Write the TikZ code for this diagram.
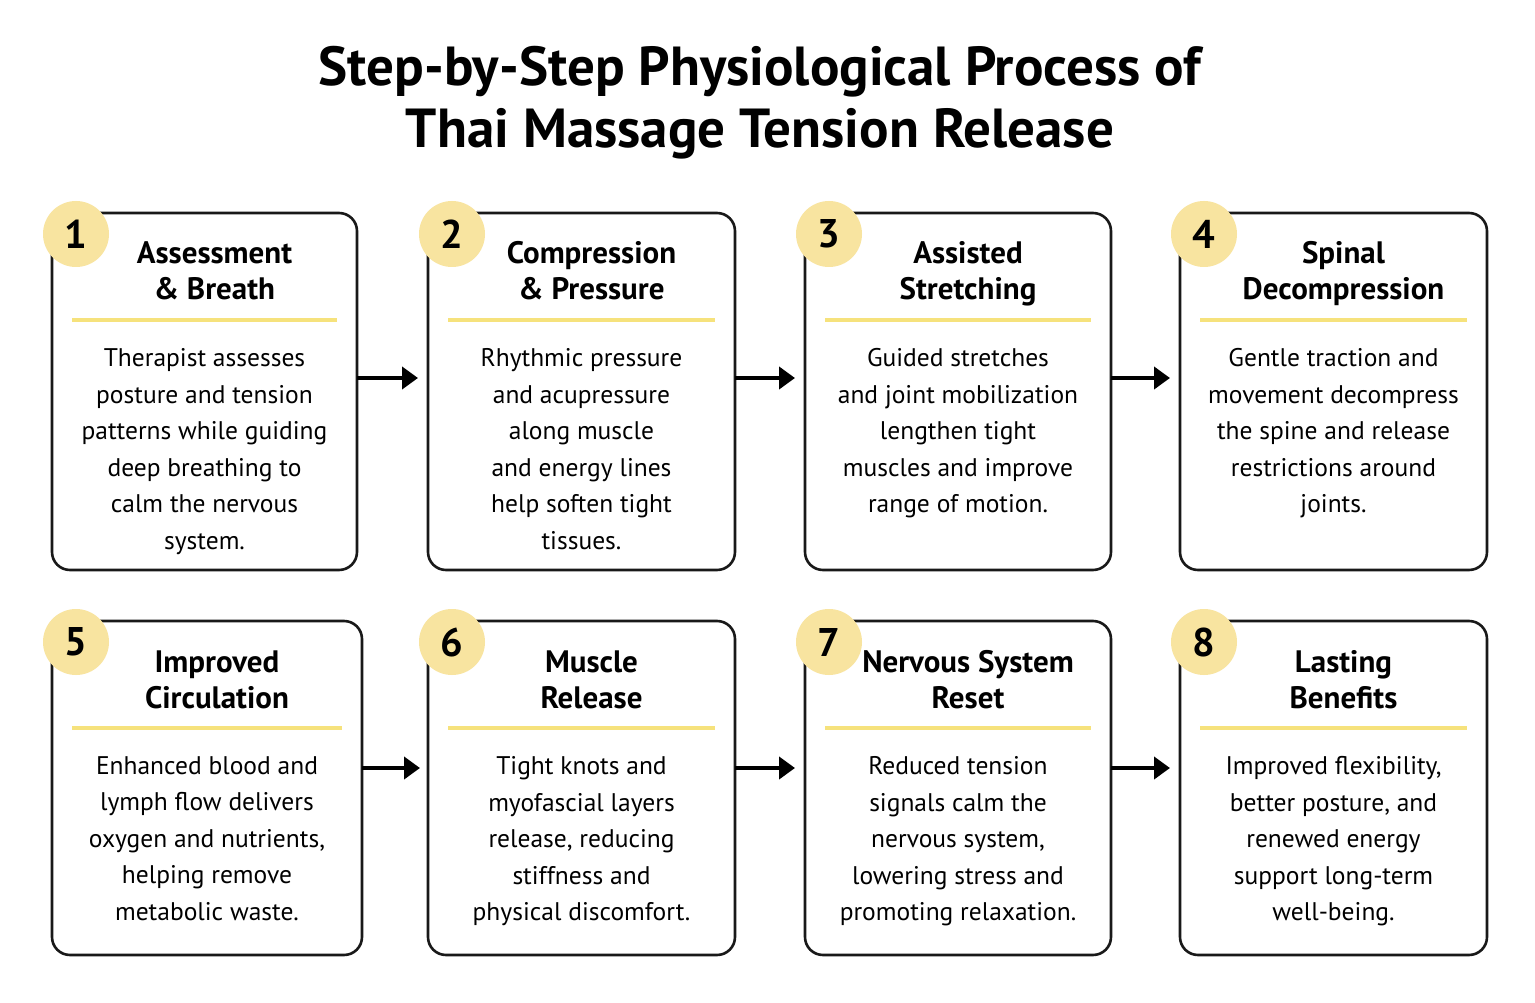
\documentclass[tikz,border=0pt]{standalone}
\usepackage{fontspec}
\setmainfont{PT Sans}
\usetikzlibrary{arrows.meta}
\definecolor{numyel}{HTML}{F8E4A0}
\definecolor{lineyel}{HTML}{F6E27C}
\tikzset{
  card/.style={draw=black!90,line width=2.6pt,rounded corners=18pt},
  numc/.style={circle,fill=numyel,minimum size=66pt,inner sep=0pt,font=\fontsize{40}{40}\selectfont\bfseries},
  head/.style={align=center,font=\fontsize{31}{36}\selectfont\bfseries,text depth=0pt},
  body/.style={align=center,font=\fontsize{25.5}{36.5}\selectfont},
  sep/.style={draw=lineyel,line width=3.5pt},
  flow/.style={line width=4pt,-{Triangle[length=16pt,width=22pt]}}
}
\newcommand{\cardbox}[9]{% name x1 y1 x2 y2 num head headY body
  \draw[card] (#2,#3) rectangle (#4,#5);
  \node[numc] (#1n) at (#2+24,#3+21) {#6};
  \node[head,anchor=base] (#1h) at ({(#2+#4)/2+10},#8) {#7};
  \draw[sep] (#2+20,#3+107) -- (#4-20,#3+107);
  \node[body,anchor=north] (#1b) at ({(#2+#4)/2},#3+132) {#9};
}
\begin{document}
\begin{tikzpicture}[x=1pt,y=-1pt]
\useasboundingbox[fill=white] (0,0) rectangle (1535,1003);
\node[align=center,font=\fontsize{55}{62}\selectfont\bfseries] (title) at (760,103) {Step-by-Step Physiological Process of\\Thai Massage Tension Release};
\cardbox{a}{52}{213}{357}{570}{1}{Assessment\\\& Breath}{300}{Therapist assesses\\posture and tension\\patterns while guiding\\deep breathing to\\calm the nervous\\system.}
\cardbox{b}{428}{213}{735}{570}{2}{Compression\\\& Pressure}{300}{Rhythmic pressure\\and acupressure\\along muscle\\and energy lines\\help soften tight\\tissues.}
\cardbox{c}{805}{213}{1111}{570}{3}{Assisted\\Stretching}{300}{Guided stretches\\and joint mobilization\\lengthen tight\\muscles and improve\\range of motion.}
\cardbox{d}{1180}{213}{1487}{570}{4}{Spinal\\Decompression}{300}{Gentle traction and\\movement decompress\\the spine and release\\restrictions around\\joints.}
\cardbox{e}{52}{621}{362}{955}{5}{Improved\\Circulation}{708}{Enhanced blood and\\lymph flow delivers\\oxygen and nutrients,\\helping remove\\metabolic waste.}
\cardbox{f}{428}{621}{735}{955}{6}{Muscle\\Release}{708}{Tight knots and\\myofascial layers\\release, reducing\\stiffness and\\physical discomfort.}
\cardbox{g}{805}{621}{1111}{955}{7}{Nervous System\\Reset}{708}{Reduced tension\\signals calm the\\nervous system,\\lowering stress and\\promoting relaxation.}
\cardbox{h}{1180}{621}{1487}{955}{8}{Lasting\\Benefits}{708}{Improved flexibility,\\better posture, and\\renewed energy\\support long-term\\well-being.}
\coordinate (a1) at (357,378); \coordinate (b0) at (418,378);
\coordinate (b1) at (735,378); \coordinate (c0) at (795,378);
\coordinate (c1) at (1111,378); \coordinate (d0) at (1170,378);
\coordinate (e1) at (362,768); \coordinate (f0) at (420,768);
\coordinate (f1) at (735,768); \coordinate (g0) at (795,768);
\coordinate (g1) at (1111,768); \coordinate (h0) at (1170,768);
\draw[flow] (a1) -- (b0); \draw[flow] (b1) -- (c0); \draw[flow] (c1) -- (d0);
\draw[flow] (e1) -- (f0); \draw[flow] (f1) -- (g0); \draw[flow] (g1) -- (h0);
\end{tikzpicture}
\end{document}
